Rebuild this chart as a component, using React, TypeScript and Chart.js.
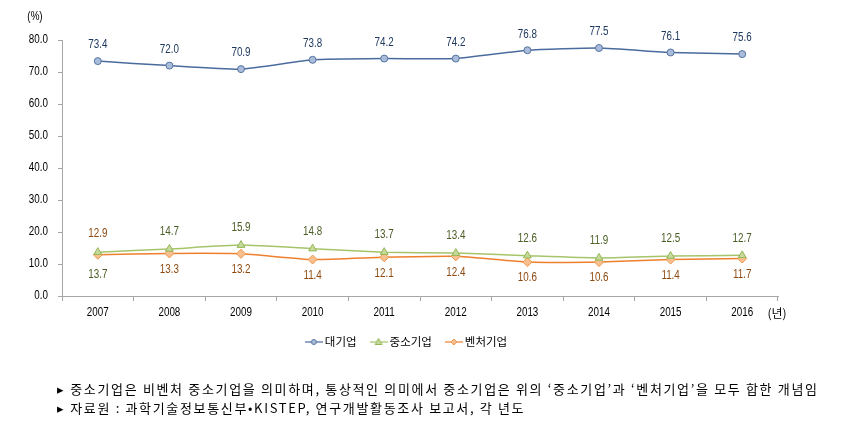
import { useEffect, useRef } from "react";
import { Chart, registerables } from "chart.js";

Chart.register(...registerables);

const years = ["2007", "2008", "2009", "2010", "2011", "2012", "2013", "2014", "2015", "2016"];
const largeFirms = [73.4, 72.0, 70.9, 73.8, 74.2, 74.2, 76.8, 77.5, 76.1, 75.6];
const smeFirms = [13.7, 14.7, 15.9, 14.8, 13.7, 13.4, 12.6, 11.9, 12.5, 12.7];
const ventureFirms = [12.9, 13.3, 13.2, 11.4, 12.1, 12.4, 10.6, 10.6, 11.4, 11.7];
const smeLabelPos = ["below", "above", "above", "above", "above", "above", "above", "above", "above", "above"];
const ventureLabelPos = ["above", "below", "below", "below", "below", "below", "below", "below", "below", "below"];
const yTicks = [0, 10, 20, 30, 40, 50, 60, 70, 80];
const seriesNames = ["대기업", "중소기업", "벤처기업"];
const yUnit = "(%)";
const xUnit = "(년)";
const notes = [
  "▸ 중소기업은 비벤처 중소기업을 의미하며, 통상적인 의미에서 중소기업은 위의 ‘중소기업’과 ‘벤처기업’을 모두 합한 개념임",
  "▸ 자료원 : 과학기술정보통신부•KISTEP, 연구개발활동조사 보고서, 각 년도",
];

const NUM_FONT = '"Liberation Sans", Arial, sans-serif';
const KR_FONT = '"Noto Sans CJK KR", "Noto Sans", sans-serif';
const SQUEEZE = 0.82;

const styles = [
  { line: "#4A6B9E", fill: "#A9BCDB", border: "#56739F", point: "circle", radius: 3.5, label: "#1F3A60" },
  { line: "#A6C46A", fill: "#C6DA9C", border: "#93B554", point: "triangle", radius: 4.5, label: "#4A5E26" },
  { line: "#EE7F2D", fill: "#F9C08F", border: "#F0954A", point: "rectRot", radius: 4.5, label: "#8E4A10" },
];

function makeLegendIcon(i: number): HTMLCanvasElement {
  const c = document.createElement("canvas");
  c.width = 18;
  c.height = 10;
  const ctx = c.getContext("2d")!;
  const s = styles[i];
  ctx.strokeStyle = s.line;
  ctx.lineWidth = 1.2;
  ctx.beginPath();
  ctx.moveTo(0, 5);
  ctx.lineTo(18, 5);
  ctx.stroke();
  ctx.fillStyle = s.fill;
  ctx.strokeStyle = s.border;
  ctx.lineWidth = 1;
  ctx.beginPath();
  if (s.point === "circle") {
    ctx.arc(9, 5, 2.5, 0, Math.PI * 2);
  } else if (s.point === "triangle") {
    ctx.moveTo(9, 1.5);
    ctx.lineTo(12.5, 7.5);
    ctx.lineTo(5.5, 7.5);
    ctx.closePath();
  } else {
    ctx.moveTo(9, 2);
    ctx.lineTo(12, 5);
    ctx.lineTo(9, 8);
    ctx.lineTo(6, 5);
    ctx.closePath();
  }
  ctx.fill();
  ctx.stroke();
  return c;
}

function narrowText(ctx: CanvasRenderingContext2D, text: string, x: number, y: number, align: CanvasTextAlign) {
  ctx.save();
  ctx.translate(x, y);
  ctx.scale(SQUEEZE, 1);
  ctx.textAlign = align;
  ctx.fillText(text, 0, 0);
  ctx.restore();
}

const extrasPlugin = {
  id: "extras",
  afterDatasetsDraw(chart: any) {
    const ctx = chart.ctx;
    ctx.save();
    ctx.font = `12px ${NUM_FONT}`;
    ctx.textBaseline = "middle";
    chart.data.datasets.forEach((ds: any, di: number) => {
      const meta = chart.getDatasetMeta(di);
      meta.data.forEach((pt: any, i: number) => {
        let dy = -16;
        if (di === 1) dy = smeLabelPos[i] === "above" ? -17 : 23;
        if (di === 2) dy = ventureLabelPos[i] === "above" ? -21 : 16;
        ctx.fillStyle = styles[di].label;
        narrowText(ctx, ds.data[i].toFixed(1), pt.x, pt.y + dy, "center");
      });
    });
    ctx.restore();
  },
  afterDraw(chart: any) {
    const ctx = chart.ctx;
    const xs = chart.scales.x;
    const ys = chart.scales.y;
    ctx.save();
    ctx.fillStyle = "#000";
    ctx.textBaseline = "middle";
    ctx.font = `12px ${NUM_FONT}`;
    // axis tick labels
    yTicks.forEach((v) => {
      narrowText(ctx, v.toFixed(1), 48, ys.getPixelForValue(v), "right");
    });
    years.forEach((y, i) => {
      narrowText(ctx, y, xs.getPixelForValue(i), 313, "center");
    });
    narrowText(ctx, yUnit, 35, 17, "center");
    ctx.font = `12px ${KR_FONT}`;
    ctx.textAlign = "center";
    ctx.fillText(xUnit, 777, 313);

    // legend
    ctx.font = `11.5px ${KR_FONT}`;
    ctx.textAlign = "left";
    const gap = 13;
    const widths = seriesNames.map((n) => ctx.measureText(n).width);
    const total = widths.reduce((a, w) => a + w + 20, 0) + gap * (seriesNames.length - 1);
    let x = 406 - total / 2;
    const ly = 342;
    seriesNames.forEach((n, i) => {
      ctx.drawImage(makeLegendIcon(i), x, ly - 5);
      ctx.fillStyle = "#000";
      ctx.fillText(n, x + 20, ly);
      x += 20 + widths[i] + gap;
    });

    // notes
    ctx.font = `13px ${KR_FONT}`;
    ctx.fillStyle = "#000";
    const w0 = ctx.measureText(notes[0]).width;
    const target = 760;
    const ls = (target - w0) / (Array.from(notes[0]).length - 1);
    (ctx as any).letterSpacing = `${ls}px`;
    ctx.fillText(notes[0], 57, 389);
    ctx.fillText(notes[1], 57, 408);
    (ctx as any).letterSpacing = "0px";
    ctx.restore();
  },
};

export default function App() {
  const ref = useRef<HTMLCanvasElement>(null);
  useEffect(() => {
    const canvas = ref.current!;
    const mk = (label: string, data: number[], i: number) => ({
      label,
      data,
      borderColor: styles[i].line,
      borderWidth: 1.5,
      backgroundColor: styles[i].fill,
      pointBackgroundColor: styles[i].fill,
      pointBorderColor: styles[i].border,
      pointBorderWidth: 1,
      pointStyle: styles[i].point,
      pointRadius: styles[i].radius,
      tension: 0.15,
      fill: false,
    });
    const chart = new Chart(canvas, {
      type: "line",
      data: {
        labels: years,
        datasets: [
          mk(seriesNames[0], largeFirms, 0),
          mk(seriesNames[1], smeFirms, 1),
          mk(seriesNames[2], ventureFirms, 2),
        ],
      },
      options: {
        animation: false,
        responsive: false,
        maintainAspectRatio: false,
        events: [],
        layout: { padding: { left: 0, right: 63, top: 40, bottom: 0 } },
        plugins: { legend: { display: false }, tooltip: { enabled: false } },
        scales: {
          x: {
            type: "category",
            offset: true,
            grid: { offset: true, drawOnChartArea: false, drawTicks: true, tickLength: 5, color: "#A6A6A6" },
            border: { display: true, color: "#A6A6A6" },
            ticks: { display: false, autoSkip: false },
            afterFit: (s: any) => {
              s.height = 133;
            },
          },
          y: {
            min: 0,
            max: 80,
            afterBuildTicks: (s: any) => {
              s.ticks = yTicks.map((v) => ({ value: v }));
            },
            ticks: { display: false },
            grid: { drawOnChartArea: false, drawTicks: true, tickLength: 4, color: "#A6A6A6" },
            border: { display: true, color: "#A6A6A6" },
            afterFit: (s: any) => {
              s.width = 62;
            },
          },
        },
      },
      plugins: [extrasPlugin],
    } as any);
    return () => chart.destroy();
  }, []);
  return (
    <div style={{ position: "absolute", left: 0, top: 0, width: 841, height: 429, background: "#fff" }}>
      <canvas ref={ref} width={841} height={429} style={{ display: "block", width: 841, height: 429 }} />
    </div>
  );
}
